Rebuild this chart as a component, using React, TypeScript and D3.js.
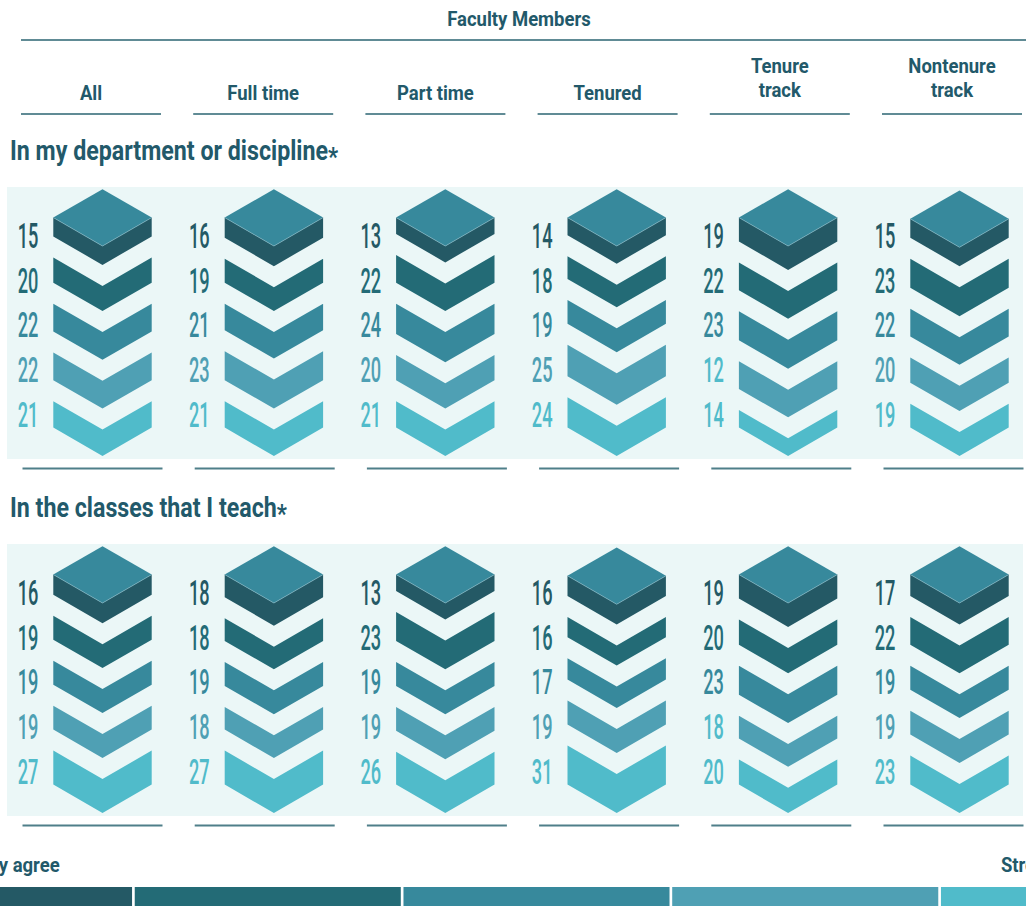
import * as d3 from "d3";
import { useEffect } from "react";

// faculty groups (columns)
const columns = ["All", "Full time", "Part time", "Tenured", "Tenure track", "Nontenure track"];
const headerLabels = [["All"], ["Full time"], ["Part time"], ["Tenured"], ["Tenure", "track"], ["Nontenure", "track"]];

// response levels, top block to bottom block
const responses = ["Strongly agree", "Agree somewhat", "Neutral", "Disagree somewhat", "Strongly disagree"];
const colors = ["#245965", "#236b76", "#37899c", "#4fa0b4", "#50bbca"];

// percentages per column, one entry per response level
const deptValues = [
    [15, 20, 22, 22, 21],
    [16, 19, 21, 23, 21],
    [13, 22, 24, 20, 21],
    [14, 18, 19, 25, 24],
    [19, 22, 23, 22, 14],
    [15, 23, 22, 20, 19],
];
const classValues = [
    [16, 19, 19, 19, 27],
    [18, 18, 19, 18, 27],
    [13, 23, 19, 19, 26],
    [16, 16, 17, 19, 31],
    [19, 20, 23, 18, 20],
    [17, 22, 19, 19, 23],
];
// the source prints "12" on the tenure-track block that is drawn at 22
const printedOverrides = { "0-4-3": "12" };

const sections = [
    { title: "In my department or discipline", values: deptValues, offset: 0 },
    { title: "In the classes that I teach", values: classValues, offset: 357 },
];

const W = 1026;
const H = 906;
const font = "Roboto, 'Noto Sans', sans-serif";
const textColor = "#22596a";

const CondText = ({ x, y, sx, anchor = "middle", size, weight = 700, fill = textColor, children }) => (
    <text
        transform={`translate(${x},${y}) scale(${sx},1)`}
        textAnchor={anchor}
        fontSize={size}
        fontWeight={weight}
        fill={fill}
        fontFamily={font}
    >
        {children}
    </text>
);

const App = () => {
    useEffect(() => {
        document.body.style.margin = "0";
    }, []);

    const xBand = d3.scaleBand().domain(columns).range([21, 1022]).paddingInner(0.187);
    const xChev = d3.scalePoint().domain(columns).range([102.5, 959.5]);
    const thick = d3.scaleLinear().domain([0, 100]).range([0, 126]);

    const halfW = 49.2;
    const dip = halfW * Math.tan(Math.PI / 6);
    const gap = 21;
    const stackBottom = 456;

    const legendX = d3.scaleBand().domain(responses).range([-134, 1207]).paddingInner(0.01);

    const pts = (arr) => arr.map(p => p.join(",")).join(" ");

    return (
        <svg width={W} height={H} style={{ position: "absolute", left: 0, top: 0, background: "#fff" }}>
            {/* column header */}
            <CondText x={519} y={26} sx={0.88} size={21}>Faculty Members</CondText>
            <line x1={21} x2={W + 2} y1={40} y2={40} stroke="#2b6572" strokeWidth={1.6} />
            {columns.map((c, i) => {
                const lines = headerLabels[i];
                const cx = xBand(c) + xBand.bandwidth() / 2;
                return (
                    <g key={c}>
                        {lines.map((l, k) => (
                            <CondText key={l} x={cx} y={lines.length === 1 ? 99.5 : 73 + k * 24} sx={0.88} size={21}>{l}</CondText>
                        ))}
                        <line x1={xBand(c)} x2={xBand(c) + xBand.bandwidth()} y1={114} y2={114} stroke="#2b6572" strokeWidth={1.6} />
                    </g>
                );
            })}

            {sections.map((s, si) => {
                const oy = s.offset;
                return (
                    <g key={s.title}>
                        <CondText x={10} y={160 + oy} sx={0.86} size={27} anchor="start">
                            {s.title}
                            <tspan fontSize={26} dy={6}>*</tspan>
                        </CondText>
                        <rect x={7} y={187 + oy} width={1016} height={272} fill="#ebf7f7" />
                        {columns.map((c, ci) => {
                            const vals = s.values[ci];
                            const cx = xChev(c);
                            const L = cx - halfW;
                            const R = cx + halfW;
                            // stack from the bottom up
                            let yb = stackBottom + oy - dip;
                            const blocks = [];
                            for (let j = vals.length - 1; j >= 0; j--) {
                                const h = thick(vals[j]);
                                const yt = yb - h;
                                blocks[j] = { yt, h };
                                yb = yt - gap;
                            }
                            const top = blocks[0].yt;
                            return (
                                <g key={c}>
                                    {blocks.map((b, j) => (
                                        <polygon
                                            key={j}
                                            fill={colors[j]}
                                            points={pts([
                                                [L, b.yt], [cx, b.yt + dip], [R, b.yt],
                                                [R, b.yt + b.h], [cx, b.yt + b.h + dip], [L, b.yt + b.h],
                                            ])}
                                        />
                                    ))}
                                    <polygon
                                        fill={colors[2]}
                                        points={pts([[cx, top - dip], [R, top], [cx, top + dip], [L, top]])}
                                    />
                                    <polyline
                                        fill="none"
                                        stroke="#7fb3c0"
                                        strokeWidth={0.7}
                                        points={pts([[L, top], [cx, top + dip], [R, top]])}
                                    />
                                    {vals.map((v, j) => {
                                        const key = `${si}-${ci}-${j}`;
                                        const txt = printedOverrides[key] ?? String(v);
                                        const fill = ci === 4 && j === 3 ? colors[4] : colors[j];
                                        return (
                                            <CondText key={j} x={L - 15} y={247.7 + j * 44.8 + oy} sx={0.52} size={35} weight={500} anchor="end" fill={fill}>
                                                {txt}
                                            </CondText>
                                        );
                                    })}
                                    <line
                                        x1={xBand(c) + 1.5}
                                        x2={xBand(c) + 1.5 + xBand.bandwidth()}
                                        y1={468.5 + oy}
                                        y2={468.5 + oy}
                                        stroke="#4f7f89"
                                        strokeWidth={2}
                                    />
                                </g>
                            );
                        })}
                    </g>
                );
            })}

            {/* legend */}
            {responses.map((r, i) => (
                <rect key={r} x={legendX(r)} y={887} width={legendX.bandwidth()} height={30} fill={colors[i]} />
            ))}
            {[responses[0], responses[4]].map(r => (
                <CondText key={r} x={legendX(r) + legendX.bandwidth() / 2} y={872} sx={0.88} size={21}>
                    {r === responses[0] ? "Strongly agree" : "Strongly disagree"}
                </CondText>
            ))}
        </svg>
    );
};

export default App;
